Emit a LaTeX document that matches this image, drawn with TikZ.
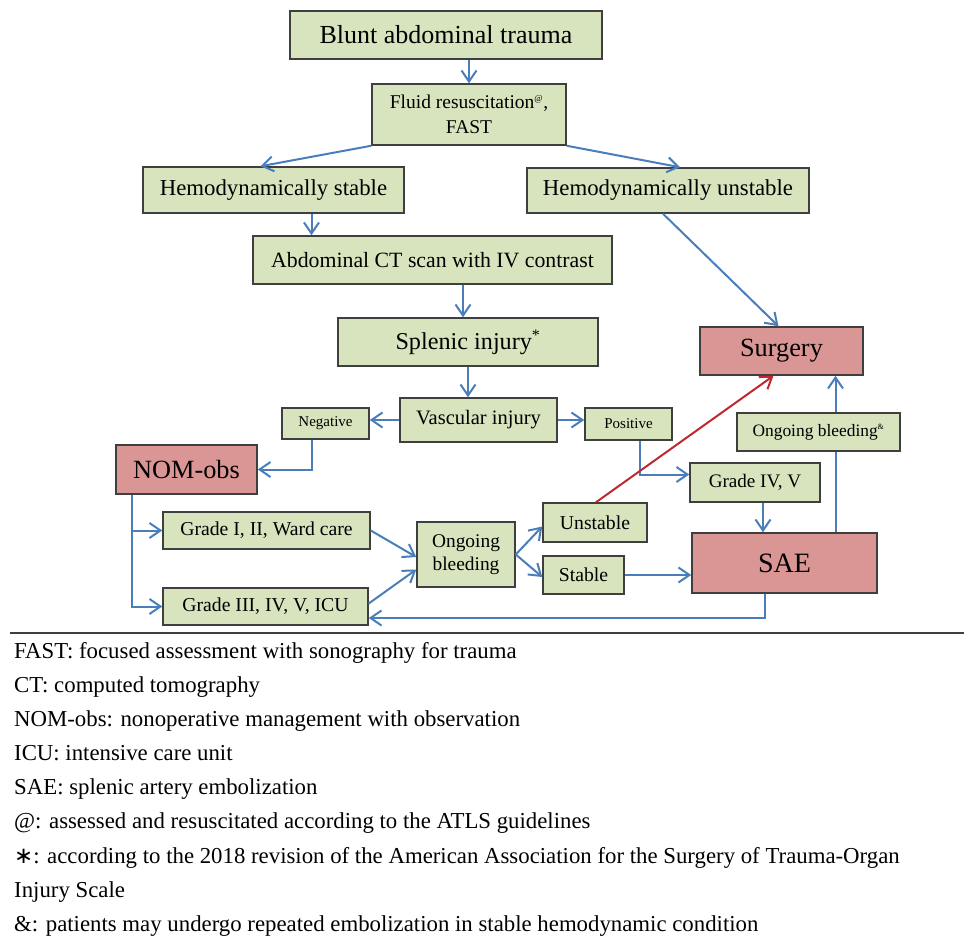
\documentclass[tikz,border=0pt]{standalone}
\usepackage{fontspec}
\setmainfont{Liberation Serif}
\newfontfamily\symfont{DejaVu Sans}
\usetikzlibrary{arrows.meta}

\definecolor{boxgreen}{HTML}{D7E4BD}
\definecolor{boxred}{HTML}{D99694}
\definecolor{boxline}{HTML}{3F3F3F}
\definecolor{linkblue}{HTML}{4A7EBB}
\definecolor{linkred}{HTML}{C0282F}

\newcommand{\fsz}[2]{\fontsize{#1}{#2}\selectfont}

\tikzset{
  gbox/.style={draw=boxline, fill=boxgreen, line width=1.5pt, inner sep=0pt, align=center},
  rbox/.style={gbox, fill=boxred},
  link/.style={draw=linkblue, line width=2pt},
  conn/.style={link, -{Straight Barb[length=11pt,width=15pt,line width=2pt]}},
  redconn/.style={conn, draw=linkred},
  legend/.style={anchor=base west, inner sep=0pt, font=\fsz{22.8}{27}},
}

\begin{document}
\begin{tikzpicture}[x=1pt,y=-1pt]
\useasboundingbox (0,0) rectangle (964,937);

% flow chart boxes
\node[gbox, minimum width=312pt, minimum height=48pt, font=\fsz{26}{30}] (blunt) at (446,35) {Blunt abdominal trauma};
\node[gbox, minimum width=194pt, minimum height=61pt, font=\fsz{19.5}{25}] (fluid) at (469,114.5) {Fluid resuscitation\textsuperscript{\fsz{9}{9}@},\\FAST};
\node[gbox, minimum width=261pt, minimum height=46pt, font=\fsz{22.8}{27}] (hstab) at (273.5,190) {Hemodynamically stable};
\node[gbox, minimum width=282pt, minimum height=45pt, font=\fsz{22.8}{27}] (hunstab) at (668,190.5) {Hemodynamically unstable};
\node[gbox, minimum width=359pt, minimum height=48pt, font=\fsz{21.8}{26}] (ct) at (432.5,260) {Abdominal CT scan with IV contrast};
\node[gbox, minimum width=260pt, minimum height=48pt, font=\fsz{24.2}{29}] (splenic) at (468,342) {Splenic injury\textsuperscript{\fsz{16}{16}*}};
\node[rbox, minimum width=163pt, minimum height=48pt, font=\fsz{26.3}{31}] (surgery) at (781.5,351) {Surgery};
\node[gbox, minimum width=157pt, minimum height=44pt, font=\fsz{20.5}{25}] (vascular) at (478.5,420) {Vascular injury};
\node[gbox, minimum width=87pt, minimum height=31pt, font=\fsz{15}{18}] (negative) at (325.5,423.5) {Negative};
\node[gbox, minimum width=87pt, minimum height=32pt, font=\fsz{15}{18}] (positive) at (628.5,424) {Positive};
\node[rbox, minimum width=141pt, minimum height=49pt, font=\fsz{26.3}{31}] (nom) at (186.5,469.5) {NOM-obs};
\node[gbox, minimum width=163pt, minimum height=38pt, font=\fsz{17.4}{21}] (obrep) at (818.5,432) {Ongoing bleeding\textsuperscript{\fsz{8}{8}\&}};
\node[gbox, minimum width=130pt, minimum height=39pt, font=\fsz{19.1}{23}] (gfour) at (755,482.5) {Grade IV, V};
\node[gbox, minimum width=207pt, minimum height=37pt, font=\fsz{19.7}{24}] (gone) at (266.5,530.5) {Grade I, II, Ward care};
\node[gbox, minimum width=98pt, minimum height=65pt, font=\fsz{19.4}{23}] (obmid) at (466,554.5) {Ongoing\\bleeding};
\node[gbox, minimum width=104pt, minimum height=39pt, font=\fsz{19.7}{24}] (unstable) at (595,522.5) {Unstable};
\node[gbox, minimum width=81pt, minimum height=38pt, font=\fsz{19.7}{24}] (stable) at (583.5,575) {Stable};
\node[rbox, minimum width=185pt, minimum height=60pt, font=\fsz{28}{33}] (sae) at (784.5,563) {SAE};
\node[gbox, minimum width=205pt, minimum height=37pt, font=\fsz{19.7}{24}] (gthree) at (265.5,606.5) {Grade III, IV, V, ICU};

% connectors
\draw[conn] (fluid.north |- blunt.south) -- (fluid.north);
\draw[conn] (fluid.south west) -- ([xshift=-13pt]hstab.north);
\draw[conn] (fluid.south east) -- ([xshift=12pt]hunstab.north);
\draw[conn] ([xshift=38pt]hstab.south) -- ([xshift=38pt]hstab.south |- ct.north);
\draw[conn] ([xshift=-5pt]splenic.north |- ct.south) -- ([xshift=-5pt]splenic.north);
\draw[conn] (splenic.south) -- (splenic.south |- vascular.north);
\draw[conn] ([xshift=-5pt]hunstab.south) -- ([xshift=-3pt]surgery.north);
\draw[conn] (vascular.west) -- (vascular.west -| negative.east);
\draw[conn] (vascular.east) -- (vascular.east -| positive.west);
\draw[conn] ([xshift=-14pt]negative.south) |- (nom.east);
\draw[conn] ([xshift=11pt]positive.south) |- ([yshift=8pt]gfour.west);
\draw[conn] ([xshift=8pt]gfour.south) -- ([xshift=8pt]gfour.south |- sae.north);
\draw[link] ([xshift=17pt]obrep.south |- sae.north) -- ([xshift=17pt]obrep.south);
\draw[conn] ([xshift=17pt]obrep.north) -- ([xshift=17pt]obrep.north |- surgery.south);
\draw[redconn] ([xshift=1pt]unstable.north) -- ([xshift=-8pt]surgery.south);
\draw[conn] ([xshift=-54.5pt]nom.south) |- (gone.west);
\draw[conn] ([xshift=-54.5pt]nom.south) |- (gthree.west);
\draw[conn] (gone.east) -- ([yshift=-2.5pt]obmid.west);
\draw[conn] ([yshift=3pt]gthree.east) -- ([yshift=-15pt]obmid.west);
\draw[conn] (obmid.east) -- ([yshift=-4pt]unstable.west);
\draw[conn] (obmid.east) -- ([yshift=-2pt]stable.west);
\draw[conn] (stable.east) -- (stable.east -| sae.west);
\draw[conn] ([xshift=-19.5pt]sae.south) |- ([yshift=-11.5pt]gthree.east);

% legend
\coordinate (sepl) at (10,633);
\coordinate (sepr) at (964,633);
\draw[boxline, line width=1.5pt] (sepl) -- (sepr);
\node[legend] (leg1) at (14,658) {FAST: focused assessment with sonography for trauma};
\node[legend] (leg2) at (14,692) {CT: computed tomography};
\node[legend] (leg3) at (14,726) {NOM-obs: nonoperative management with observation};
\node[legend] (leg4) at (14,760) {ICU: intensive care unit};
\node[legend] (leg5) at (14,794) {SAE: splenic artery embolization};
\node[legend] (leg6) at (14,828) {@: assessed and resuscitated according to the ATLS guidelines};
\node[legend] (leg7) at (14,863) {{\symfont ∗}: according to the 2018 revision of the American Association for the Surgery of Trauma-Organ};
\node[legend] (leg8) at (14,897) {Injury Scale};
\node[legend] (leg9) at (14,931) {\&: patients may undergo repeated embolization in stable hemodynamic condition};
\end{tikzpicture}
\end{document}
